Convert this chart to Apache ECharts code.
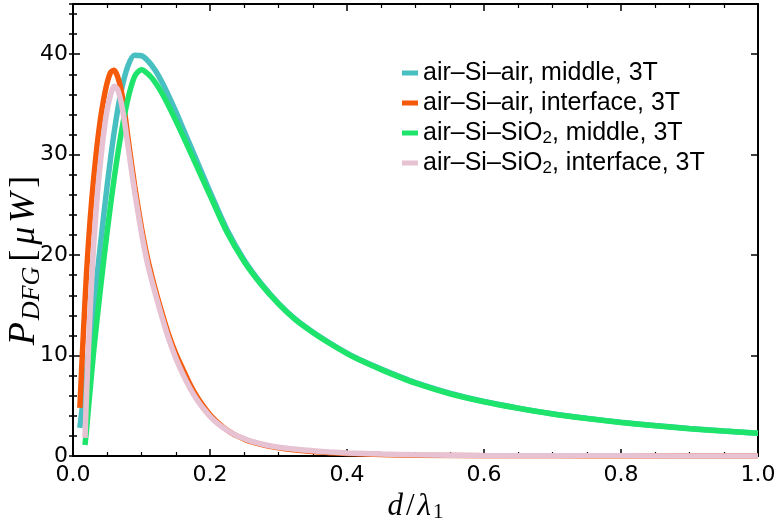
<!DOCTYPE html>
<html>
<head>
<meta charset="utf-8">
<script src="https://cdn.jsdelivr.net/npm/echarts@6/dist/echarts.min.js"></script>
<style>
  html, body { margin: 0; background: #fff; }
  #chart { width: 781px; height: 529px; }
</style>
</head>
<body>
<div id="chart"></div>
<script>
// series names (legend)
const names = [
  'air–Si–air, middle, 3T',
  'air–Si–air, interface, 3T',
  'air–Si–SiO2, middle, 3T',
  'air–Si–SiO2, interface, 3T'
];
const colors = ['#48bfc0', '#f55a0a', '#1ee46c', '#e6c2d2'];

// [d/λ1, P_DFG in µW]
const airMiddle = [
  [0.010, 2.8], [0.020, 8.6], [0.030, 14.8], [0.040, 21.0], [0.050, 27.0], [0.060, 32.2],
  [0.070, 36.2], [0.080, 38.8], [0.090, 39.9], [0.100, 39.85], [0.110, 39.3], [0.120, 38.4],
  [0.130, 37.2], [0.140, 35.8], [0.150, 34.3], [0.160, 32.7], [0.170, 31.1], [0.180, 29.5],
  [0.190, 27.9], [0.200, 26.3], [0.225, 22.5], [0.250, 19.5], [0.275, 17.15], [0.300, 15.2],
  [0.325, 13.6], [0.350, 12.35], [0.375, 11.25], [0.400, 10.25], [0.425, 9.4], [0.450, 8.65],
  [0.475, 7.95], [0.500, 7.3], [0.550, 6.25], [0.600, 5.42], [0.650, 4.77], [0.700, 4.2],
  [0.750, 3.75], [0.800, 3.36], [0.850, 3.03], [0.900, 2.74], [0.950, 2.49], [1.000, 2.27]
];
const airInterface = [
  [0.010, 4.8], [0.015, 12.0], [0.020, 18.5], [0.025, 23.5], [0.030, 27.5], [0.035, 30.8],
  [0.040, 33.5], [0.045, 35.6], [0.050, 37.2], [0.055, 38.2], [0.060, 38.4], [0.065, 37.8],
  [0.070, 36.5], [0.075, 34.4], [0.080, 31.8], [0.085, 29.3], [0.090, 26.9], [0.095, 24.75],
  [0.100, 22.7], [0.105, 20.9], [0.110, 19.3], [0.120, 16.6], [0.130, 14.2], [0.140, 12.0],
  [0.150, 10.2], [0.160, 8.7], [0.170, 7.25], [0.180, 6.0], [0.190, 4.98], [0.200, 4.1],
  [0.210, 3.4], [0.220, 2.83], [0.230, 2.36], [0.240, 1.98], [0.250, 1.68], [0.260, 1.42],
  [0.280, 1.06], [0.300, 0.82], [0.325, 0.6], [0.350, 0.44], [0.375, 0.33], [0.400, 0.25],
  [0.450, 0.14], [0.500, 0.08], [0.600, 0.03], [0.700, 0.015], [0.800, 0.008], [1.000, 0.003]
];
const sio2Middle = [
  [0.0175, 1.1], [0.020, 2.8], [0.030, 10.3], [0.040, 16.6], [0.050, 22.4], [0.060, 27.6],
  [0.070, 32.0], [0.080, 35.5], [0.090, 37.8], [0.100, 38.45], [0.110, 38.0], [0.120, 37.2],
  [0.130, 36.1], [0.140, 34.8], [0.150, 33.4], [0.160, 31.95], [0.170, 30.45], [0.180, 28.95],
  [0.190, 27.45], [0.200, 25.95], [0.225, 22.25], [0.250, 19.35], [0.275, 17.05], [0.300, 15.15],
  [0.325, 13.55], [0.350, 12.3], [0.375, 11.2], [0.400, 10.2], [0.425, 9.35], [0.450, 8.6],
  [0.475, 7.9], [0.500, 7.25], [0.550, 6.2], [0.600, 5.4], [0.650, 4.75], [0.700, 4.18],
  [0.750, 3.73], [0.800, 3.34], [0.850, 3.01], [0.900, 2.72], [0.950, 2.48], [1.000, 2.26]
];
const sio2Interface = [
  [0.0175, 1.8], [0.020, 6.5], [0.025, 14.5], [0.030, 20.8], [0.035, 25.6], [0.040, 29.2],
  [0.045, 32.2], [0.050, 34.5], [0.055, 36.0], [0.060, 36.8], [0.065, 36.5], [0.070, 35.3],
  [0.075, 33.4], [0.080, 31.0], [0.085, 28.6], [0.090, 26.3], [0.095, 24.2], [0.100, 22.2],
  [0.105, 20.4], [0.110, 18.8], [0.120, 16.2], [0.130, 13.8], [0.140, 11.6], [0.150, 9.75],
  [0.160, 8.2], [0.170, 6.85], [0.180, 5.7], [0.190, 4.75], [0.200, 3.95], [0.210, 3.3],
  [0.220, 2.78], [0.230, 2.35], [0.240, 2.0], [0.250, 1.72], [0.260, 1.48], [0.280, 1.12],
  [0.300, 0.88], [0.325, 0.67], [0.350, 0.52], [0.375, 0.4], [0.400, 0.31], [0.450, 0.19],
  [0.500, 0.12], [0.600, 0.05], [0.700, 0.025], [0.800, 0.015], [1.000, 0.007]
];
const allData = [airMiddle, airInterface, sio2Middle, sio2Interface];

const xTicks = { min: 0, max: 1, interval: 0.2 };
const yTicks = { min: 0, max: 45, major: 10, minor: 2 };

const chart = echarts.init(document.getElementById('chart'));

const frameLine = { show: true, onZero: false, lineStyle: { color: '#000', width: 2 } };
const tickStyle = { color: '#000', width: 1.5 };
const labelFont = { fontFamily: 'DejaVu Sans', fontSize: 22, color: '#000' };

function xAxis(pos, labels) {
  return {
    type: 'value', position: pos, min: xTicks.min, max: xTicks.max, interval: xTicks.interval,
    axisLine: frameLine,
    axisTick: { inside: true, length: 7, lineStyle: tickStyle },
    minorTick: { show: true, splitNumber: 4, length: 4, lineStyle: { color: '#000', width: 1.2 } },
    splitLine: { show: false },
    axisLabel: labels ? Object.assign({ margin: 8, formatter: v => v.toFixed(1) }, labelFont) : { show: false }
  };
}
function yAxis(pos, step, len, labels, line) {
  return {
    type: 'value', position: pos, min: yTicks.min, max: yTicks.max, interval: step,
    axisLine: line ? frameLine : { show: false },
    axisTick: { inside: true, length: len, lineStyle: tickStyle },
    splitLine: { show: false },
    axisLabel: labels ? Object.assign({ margin: 5, showMaxLabel: false }, labelFont) : { show: false }
  };
}

const serif = 'Liberation Serif';
const xs = [xAxis('bottom', true), xAxis('top', false)];
xs[0].name = '{i|d}{n|/}{i|λ}{s|1}';
xs[0].nameLocation = 'middle';
xs[0].nameGap = 17;
xs[0].nameTextStyle = {
  rich: {
    i: { fontFamily: serif, fontStyle: 'italic', fontSize: 31, color: '#000' },
    n: { fontFamily: serif, fontSize: 31, color: '#000', padding: [0, 3, 0, 3] },
    s: { fontFamily: serif, fontSize: 21, color: '#000', padding: [13, 0, 0, 2] }
  }
};

const ys = [
  yAxis('left', yTicks.major, 7, true, true),
  yAxis('left', yTicks.minor, 4, false, false),
  yAxis('right', yTicks.major, 7, false, true),
  yAxis('right', yTicks.minor, 4, false, false)
];
ys[0].name = '{p|P}{s|DFG}{n|[}{m|μ}{w|W}{n|]}';
ys[0].nameLocation = 'middle';
ys[0].nameRotate = 90;
ys[0].nameGap = 28;
ys[0].nameMoveOverlap = false;
ys[0].nameTextStyle = {
  padding: [0, 56, 0, 0],
  rich: {
    p: { fontFamily: serif, fontStyle: 'italic', fontSize: 38, color: '#000', padding: [0, 2, 0, 0] },
    m: { fontFamily: serif, fontStyle: 'italic', fontSize: 36, color: '#000', padding: [0, 4, 0, 0] },
    w: { fontFamily: serif, fontStyle: 'italic', fontSize: 36, color: '#000' },
    n: { fontFamily: serif, fontSize: 36, color: '#000', padding: [0, 5, 0, 5] },
    s: { fontFamily: serif, fontStyle: 'italic', fontSize: 26, color: '#000', padding: [15, 0, 0, 0] }
  }
};

chart.setOption({
  animation: false,
  backgroundColor: '#fff',
  grid: { left: 73, right: 23, top: 4, bottom: 73, outerBoundsMode: 'none' },
  legend: {
    orient: 'vertical', left: 397, top: 54,
    icon: 'rect', itemWidth: 16, itemHeight: 5, itemGap: 2,
    data: names,
    formatter: n => n.replace('SiO2', 'SiO{sub|2}'),
    textStyle: {
      fontFamily: 'Liberation Sans', fontSize: 25, lineHeight: 28, color: '#000',
      rich: { sub: { fontFamily: 'Liberation Sans', fontSize: 17, color: '#000', padding: [11, 0, 0, 0] } }
    }
  },
  xAxis: xs,
  yAxis: ys,
  series: allData.map((d, i) => ({
    name: names[i],
    type: 'line',
    data: d,
    smooth: 0.3,
    showSymbol: false,
    color: colors[i],
    lineStyle: { width: 5.5, color: colors[i], cap: 'butt' }
  }))
});
</script>
</body>
</html>
